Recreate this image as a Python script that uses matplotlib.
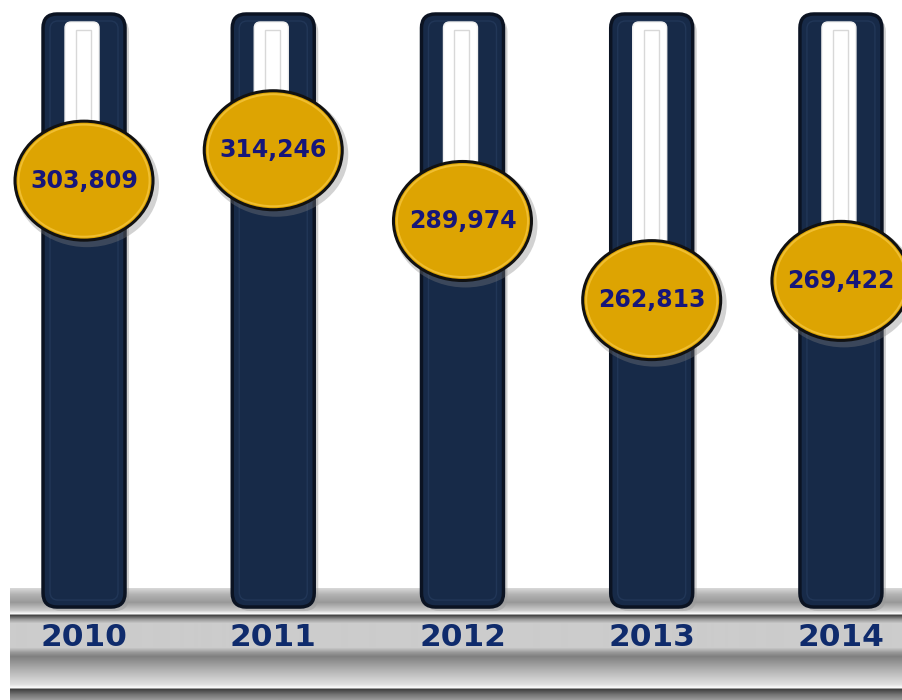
import numpy as np
import matplotlib
matplotlib.use("Agg")
import matplotlib.pyplot as plt
from matplotlib.patches import FancyBboxPatch, Ellipse

years = ["2010", "2011", "2012", "2013", "2014"]
values = [303809, 314246, 289974, 262813, 269422]

# value scale (chosen so the balls sit roughly where the original puts them)
Y_MIN, Y_MAX = 125600, 365800
TRACK_TOP, TRACK_BOTTOM = 361000, 157500
X_MIN, X_MAX = -0.444, 4.328

W, H = 903, 700
fig = plt.figure(figsize=(W / 100, H / 100), dpi=100)
fig.patch.set_facecolor("white")

# metallic floor band
floor_ax = fig.add_axes([10 / W, 0, 1 - 10 / W, 112 / H])
floor_ax.set_axis_off()
stops = [(0, .84), (6, .70), (14, .60), (22, .80), (25, .97), (27, .28), (31, .60),
         (35, .80), (59, .80), (64, .60), (68, .50), (82, .70), (96, .88), (99, .98),
         (101, .26), (106, .45), (112, .62)]
rows = np.arange(112)
gray = np.interp(rows, [s[0] for s in stops], [s[1] for s in stops])
floor_ax.imshow(gray[:, None], aspect="auto", cmap="gray", vmin=0, vmax=1,
                extent=(0, 1, 0, 1), interpolation="bilinear")

ax = fig.add_axes([0, 0, 1, 1])
ax.set_xlim(X_MIN, X_MAX)
ax.set_ylim(Y_MIN, Y_MAX)
ax.set_axis_off()
ax.patch.set_alpha(0)

px_x = W / (X_MAX - X_MIN)
px_y = H / (Y_MAX - Y_MIN)
asp = px_x / px_y

def dx(p):
    return p / px_x

def dy(p):
    return p / px_y

tube_w = dx(82)
for i, v in enumerate(values):
    # shadow
    ax.add_patch(FancyBboxPatch((i - tube_w / 2 + dx(4), TRACK_BOTTOM - dy(4)), tube_w,
                                TRACK_TOP - TRACK_BOTTOM,
                                boxstyle=f"round,pad=0,rounding_size={dx(14)}",
                                mutation_aspect=asp, fc="#9a9a9a", ec="none",
                                alpha=0.45, zorder=1))
    ax.add_patch(FancyBboxPatch((i - tube_w / 2, TRACK_BOTTOM), tube_w,
                                TRACK_TOP - TRACK_BOTTOM,
                                boxstyle=f"round,pad=0,rounding_size={dx(14)}",
                                mutation_aspect=asp, fc="#172a48", ec="#0b1322",
                                lw=2.5, zorder=2))
    ax.add_patch(FancyBboxPatch((i - tube_w / 2 + dx(7), TRACK_BOTTOM + dy(7)),
                                tube_w - dx(14), TRACK_TOP - TRACK_BOTTOM - dy(14),
                                boxstyle=f"round,pad=0,rounding_size={dx(8)}",
                                mutation_aspect=asp, fc="none", ec="#213657",
                                lw=1.0, zorder=3))
    # white stripe above the ball
    top = TRACK_TOP - dy(8)
    ax.add_patch(FancyBboxPatch((i - dx(19), v), dx(34), top - v,
                                boxstyle=f"round,pad=0,rounding_size={dx(6)}",
                                mutation_aspect=asp, fc="white", ec="#f0f0f0",
                                lw=1, zorder=4))
    ax.add_patch(plt.Rectangle((i - dx(8), v), dx(15), top - dy(8) - v,
                               fc="none", ec="#d8d8d8", lw=1, zorder=5))
    # ball
    bw, bh = dx(138), dy(119)
    ax.add_patch(Ellipse((i + dx(3), v - dy(4)), bw + dx(6), bh + dy(6),
                         fc="#808080", ec="none", alpha=0.35, zorder=6))
    ax.add_patch(Ellipse((i, v), bw, bh, fc="#dda402", ec="#111111", lw=2.2, zorder=7))
    ax.add_patch(Ellipse((i, v), bw - dx(7), bh - dy(7), fc="none", ec="#f0be30",
                         lw=1.4, zorder=8))
    ax.text(i, v, f"{v:,}", ha="center", va="center", fontsize=17,
            fontweight="bold", color="#16167a", zorder=9)

xt = ax.get_xaxis_transform()
for i, y in enumerate(years):
    ax.text(i, 1 - 638 / H, y, transform=xt, ha="center", va="center",
            fontsize=22.5, fontweight="bold", color="#0f2b6c", zorder=9)

fig.savefig("out.png", dpi=100, facecolor="white")
